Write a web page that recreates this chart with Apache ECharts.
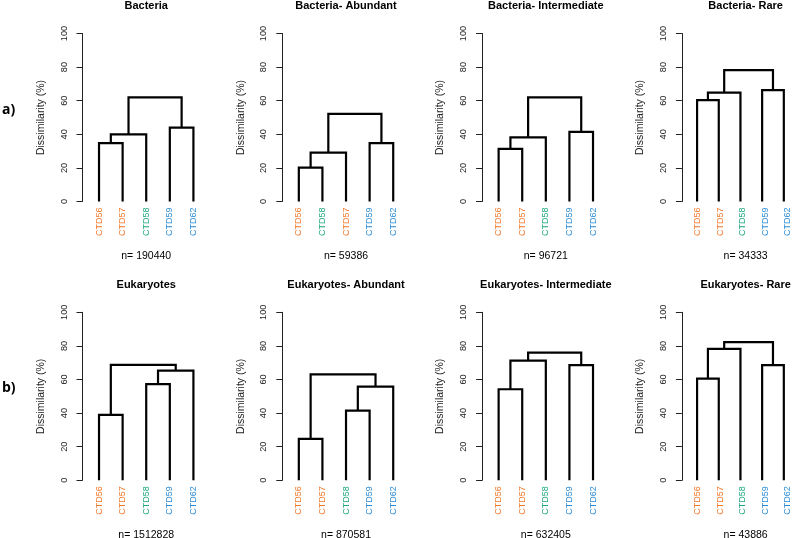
<!DOCTYPE html>
<html>
<head>
<meta charset="utf-8">
<script src="https://cdn.jsdelivr.net/npm/echarts@6/dist/echarts.min.js"></script>
<style>html,body{margin:0;padding:0;background:#fff;}#c{width:799px;height:538px;}</style>
</head>
<body>
<div id="c"></div>
<script>
// ---- data ----
const panelTitles = ['Bacteria', 'Bacteria- Abundant', 'Bacteria- Intermediate', 'Bacteria- Rare',
  'Eukaryotes', 'Eukaryotes- Abundant', 'Eukaryotes- Intermediate', 'Eukaryotes- Rare'];
const nCounts = [190440, 59386, 96721, 34333, 1512828, 870581, 632405, 43886];
const leafOrders = [
  ['CTD56', 'CTD57', 'CTD58', 'CTD59', 'CTD62'],
  ['CTD56', 'CTD58', 'CTD57', 'CTD59', 'CTD62'],
  ['CTD56', 'CTD57', 'CTD58', 'CTD59', 'CTD62'],
  ['CTD56', 'CTD57', 'CTD58', 'CTD59', 'CTD62'],
  ['CTD56', 'CTD57', 'CTD58', 'CTD59', 'CTD62'],
  ['CTD56', 'CTD57', 'CTD58', 'CTD59', 'CTD62'],
  ['CTD56', 'CTD57', 'CTD58', 'CTD59', 'CTD62'],
  ['CTD56', 'CTD57', 'CTD58', 'CTD59', 'CTD62']
];
// merges: [left, right, height]; negative = leaf position (1-based), positive = earlier merge (1-based)
const merges = [
  [[-1, -2, 34.7], [1, -3, 40.0], [-4, -5, 44.0], [2, 3, 62.0]],
  [[-1, -2, 20.2], [1, -3, 29.1], [-4, -5, 34.7], [2, 3, 52.1]],
  [[-1, -2, 31.3], [1, -3, 38.2], [-4, -5, 41.4], [2, 3, 62.0]],
  [[-1, -2, 60.4], [1, -3, 64.8], [-4, -5, 66.3], [2, 3, 78.2]],
  [[-1, -2, 38.9], [-3, -4, 57.3], [2, -5, 65.3], [1, 3, 68.7]],
  [[-1, -2, 24.6], [-3, -4, 41.5], [2, -5, 55.8], [1, 3, 63.1]],
  [[-1, -2, 54.2], [1, -3, 71.2], [-4, -5, 68.5], [2, 3, 76.0]],
  [[-1, -2, 60.5], [1, -3, 78.2], [-4, -5, 68.5], [2, 3, 82.3]]
];
const yTicks = [0, 20, 40, 60, 80, 100];
const rowLabels = ['a)', 'b)'];
const leafColors = { CTD56: '#F2782A', CTD57: '#F2782A', CTD58: '#1DA77E', CTD59: '#2A8BD6', CTD62: '#2A8BD6' };

// ---- layout ----
const FONT = '"Liberation Sans", Arial, sans-serif';
const axisXs = [82.5, 282.3, 482.1, 681.9];
const rowTops = [33.5, 312.3];
const plotH = 168;
const unit = 23.6;
const xMin = 0.3, xMax = 5.7;

const grids = [], xAxes = [], yAxes = [], series = [], titles = [];

for (let p = 0; p < 8; p++) {
  const col = p % 4, row = Math.floor(p / 4);
  const ax = axisXs[col], top = rowTops[row];
  const gi = grids.length;
  // main grid for dendrogram
  grids.push({ left: ax, top: top, width: (xMax - xMin) * unit, height: plotH });
  xAxes.push({ type: 'value', gridIndex: gi, min: xMin, max: xMax, show: false });
  yAxes.push({
    type: 'value', gridIndex: gi, min: yTicks[0], max: yTicks[yTicks.length - 1], interval: 20,
    name: 'Dissimilarity (%)', nameLocation: 'middle', nameGap: 36,
    nameTextStyle: { fontFamily: FONT, fontSize: 10.5, color: '#222' },
    axisLine: { show: true, lineStyle: { color: '#222', width: 1 } },
    axisTick: { show: true, length: 6, lineStyle: { color: '#222' } },
    axisLabel: { rotate: 90, margin: 14, fontFamily: FONT, fontSize: 9.2, color: '#222' },
    splitLine: { show: false }
  });
  // label grid for leaf names
  const li = grids.length;
  grids.push({ left: ax + (1 - xMin - 0.5) * unit, top: top, width: 5 * unit, height: plotH });
  xAxes.push({
    type: 'category', gridIndex: li, boundaryGap: true,
    data: leafOrders[p].map(n => ({ value: n, textStyle: { color: leafColors[n] } })),
    axisLine: { show: false }, axisTick: { show: false },
    axisLabel: { rotate: 90, margin: 6, fontFamily: FONT, fontSize: 9, interval: 0 }
  });
  yAxes.push({ type: 'value', gridIndex: li, min: 0, max: 100, show: false });

  // dendrogram segments
  const nodes = []; // [x, h]
  const nodeOf = (k) => k < 0 ? [-k, 0] : nodes[k - 1];
  merges[p].forEach(m => {
    const a = nodeOf(m[0]), b = nodeOf(m[1]), h = m[2];
    series.push({
      type: 'line', xAxisIndex: gi, yAxisIndex: gi, symbol: 'none', silent: true,
      animation: false,
      lineStyle: { color: '#000', width: 2.2, join: 'miter', cap: 'butt' },
      data: [[a[0], a[1]], [a[0], h], [b[0], h], [b[0], b[1]]]
    });
    nodes.push([(a[0] + b[0]) / 2, h]);
  });

  const cx = ax + (3 - xMin) * unit;
  titles.push({
    text: panelTitles[p], left: cx, top: top - 27.5, textAlign: 'center', textVerticalAlign: 'middle', padding: 0,
    textStyle: { fontFamily: FONT, fontWeight: 'bold', fontSize: 11, color: '#000' }
  });
  titles.push({
    text: 'n= ' + nCounts[p], left: cx, top: top + plotH + 54.5, textAlign: 'center', textVerticalAlign: 'middle', padding: 0,
    textStyle: { fontFamily: FONT, fontWeight: 'normal', fontSize: 10.5, color: '#000' }
  });
}
rowLabels.forEach((t, r) => {
  titles.push({
    text: t, left: 2, top: rowTops[r] + [77, 76][r], textAlign: 'left', textVerticalAlign: 'middle', padding: 0,
    textStyle: { fontFamily: '"Open Sans", ' + FONT, fontWeight: 'bold', fontSize: 14, color: '#000' }
  });
});

const chart = echarts.init(document.getElementById('c'), null, { renderer: 'canvas' });
chart.setOption({
  backgroundColor: '#fff',
  animation: false,
  title: titles,
  grid: grids,
  xAxis: xAxes,
  yAxis: yAxes,
  series: series
});
</script>
</body>
</html>
